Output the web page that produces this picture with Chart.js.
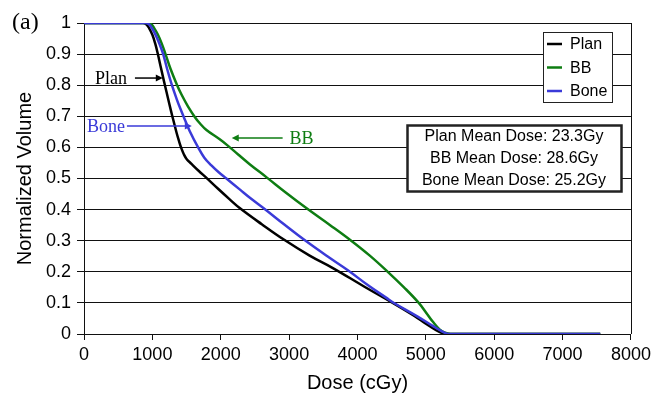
<!DOCTYPE html>
<html>
<head>
<meta charset="utf-8">
<script src="https://cdn.jsdelivr.net/npm/chart.js@4"></script>
<style>
  html, body { margin: 0; padding: 0; background: #fff; }
  #wrap { width: 655px; height: 401px; position: relative; }
</style>
</head>
<body>
<div id="wrap"><canvas id="dvh"></canvas></div>
<script>
/* DVH curves: Plan / BB / Bone */
const planDose = [0, 860, 910, 954, 1000, 1040, 1075, 1119, 1160, 1207, 1250, 1290, 1353, 1390, 1426, 1460, 1500, 1572, 1680, 1791, 1961, 2131, 2277, 2600, 2934, 3300, 3640, 4102, 4515, 4832, 5000, 5150, 5250, 5320, 7550];
const planVol  = [1, 1, 0.996, 0.983, 0.962, 0.935, 0.905, 0.862, 0.822, 0.778, 0.738, 0.702, 0.648, 0.62, 0.596, 0.578, 0.563, 0.547, 0.524, 0.502, 0.467, 0.433, 0.405, 0.353, 0.302, 0.252, 0.212, 0.152, 0.1, 0.058, 0.033, 0.012, 0.002, 0, 0];

const bbDose = [0, 940, 985, 1022, 1080, 1140, 1192, 1265, 1362, 1426, 1520, 1620, 1700, 1791, 1985, 2107, 2250, 2423, 2680, 2950, 3251, 3600, 3908, 4180, 4443, 4680, 4896, 5026, 5100, 5200, 5280, 5360, 7550];
const bbVol  = [1, 1, 0.996, 0.985, 0.963, 0.932, 0.9, 0.853, 0.8, 0.77, 0.732, 0.698, 0.676, 0.656, 0.626, 0.605, 0.578, 0.546, 0.502, 0.455, 0.405, 0.35, 0.3, 0.252, 0.2, 0.15, 0.1, 0.062, 0.04, 0.015, 0.004, 0, 0];

const boneDose = [0, 900, 950, 988, 1040, 1100, 1158, 1216, 1280, 1353, 1410, 1474, 1547, 1669, 1760, 1863, 1970, 2083, 2277, 2450, 2642, 2930, 3226, 3591, 3859, 4165, 4418, 4515, 4880, 5100, 5250, 5340, 7550];
const boneVol  = [1, 1, 0.996, 0.985, 0.965, 0.935, 0.9, 0.852, 0.804, 0.757, 0.724, 0.69, 0.652, 0.6, 0.567, 0.542, 0.52, 0.5, 0.465, 0.434, 0.402, 0.352, 0.302, 0.245, 0.205, 0.155, 0.117, 0.102, 0.056, 0.026, 0.007, 0, 0];

const meanDose = ['Plan Mean Dose: 23.3Gy', 'BB Mean Dose: 28.6Gy', 'Bone Mean Dose: 25.2Gy'];

const colors = { Plan: '#000000', BB: '#0e7d12', Bone: '#3a3ad8' };
const SANS = '"Liberation Sans", Arial, sans-serif';
const SERIF = '"Liberation Serif", "Times New Roman", serif';

function pts(xs, ys) { return xs.map((x, i) => ({ x, y: ys[i] })); }

// annotation arrows, in data units
const notes = [
  { text: 'Plan', color: '#000', textX: 628, align: 'right', y: 0.823, from: 745, to: 1153 },
  { text: 'Bone', color: '#3a3ad8', textX: 600, align: 'right', y: 0.669, from: 628, to: 1577 },
  { text: 'BB', color: '#0e7d12', textX: 3007, align: 'left', y: 0.630, from: 2905, to: 2161 },
];

const extras = {
  id: 'extras',
  afterDraw(chart) {
    const { ctx, chartArea: a, scales: { x, y } } = chart;
    ctx.save();
    // right frame
    ctx.strokeStyle = '#111'; ctx.lineWidth = 1;
    ctx.beginPath(); ctx.moveTo(Math.round(a.right) + 0.5, a.top); ctx.lineTo(Math.round(a.right) + 0.5, a.bottom); ctx.stroke();

    // (a)
    ctx.fillStyle = '#000'; ctx.font = '24px ' + SERIF;
    ctx.textAlign = 'left'; ctx.textBaseline = 'middle';
    ctx.fillText('(a)', 12, 23);

    // arrows + labels
    ctx.font = '18px ' + SERIF;
    notes.forEach((n) => {
      const py = y.getPixelForValue(n.y);
      const x0 = x.getPixelForValue(n.from), x1 = x.getPixelForValue(n.to);
      const dir = Math.sign(x1 - x0);
      ctx.strokeStyle = n.color; ctx.fillStyle = n.color; ctx.lineWidth = 1.5;
      ctx.beginPath(); ctx.moveTo(x0, py); ctx.lineTo(x1 - dir * 5, py); ctx.stroke();
      ctx.beginPath(); ctx.moveTo(x1, py); ctx.lineTo(x1 - dir * 7, py - 3.5); ctx.lineTo(x1 - dir * 7, py + 3.5); ctx.closePath(); ctx.fill();
      ctx.textAlign = n.align;
      ctx.fillText(n.text, x.getPixelForValue(n.textX), py + 1);
    });

    // legend box
    const lx = 543, ly = 32, lw = 69, lh = 70;
    ctx.fillStyle = '#fff'; ctx.fillRect(lx, ly, lw, lh);
    ctx.strokeStyle = '#222'; ctx.lineWidth = 1;
    ctx.strokeRect(lx + 0.5, ly + 0.5, lw, lh);
    ctx.font = '16px ' + SANS; ctx.textAlign = 'left';
    chart.data.datasets.forEach((ds, i) => {
      const yy = 44 + i * 23.5;
      ctx.strokeStyle = ds.borderColor; ctx.lineWidth = 2.5;
      ctx.beginPath(); ctx.moveTo(547, yy); ctx.lineTo(562, yy); ctx.stroke();
      ctx.fillStyle = '#000'; ctx.fillText(ds.label, 570, yy + 1);
    });

    // mean dose box
    const bx = 407, by = 125, bw = 214, bh = 66;
    ctx.fillStyle = '#fff'; ctx.fillRect(bx, by, bw, bh);
    ctx.strokeStyle = '#222'; ctx.strokeRect(bx + 0.5, by + 0.5, bw, bh);
    ctx.fillStyle = '#000'; ctx.textAlign = 'center';
    meanDose.forEach((t, i) => ctx.fillText(t, bx + bw / 2, 137 + i * 22));
    ctx.restore();
  },
};

const datasets = [
  { label: 'Plan', data: pts(planDose, planVol), borderColor: colors.Plan, order: 2 },
  { label: 'BB', data: pts(bbDose, bbVol), borderColor: colors.BB, order: 1 },
  { label: 'Bone', data: pts(boneDose, boneVol), borderColor: colors.Bone, order: 0 },
].map((d) => ({ ...d, borderWidth: 2.5, pointRadius: 0, fill: false, tension: 0.4 }));

new Chart(document.getElementById('dvh'), {
  type: 'line',
  data: { datasets },
  options: {
    responsive: true, maintainAspectRatio: false, animation: false,
    layout: { padding: { top: 23, right: 23, left: 0, bottom: 0 } },
    plugins: { legend: { display: false }, tooltip: { enabled: false } },
    scales: {
      x: {
        type: 'linear', min: 0, max: 8000,
        ticks: { stepSize: 1000, color: '#000', font: { family: SANS, size: 18 }, padding: 4, maxRotation: 0,
          callback: (v) => String(v) },
        grid: { drawOnChartArea: false, drawTicks: true, tickLength: 6, color: '#111' },
        border: { color: '#111', width: 1 },
        title: { display: true, text: 'Dose (cGy)', color: '#000', font: { family: SANS, size: 20 }, padding: { top: 0, bottom: 6 } },
        afterFit(s) { s.height = 67; },
      },
      y: {
        min: 0, max: 1,
        ticks: { stepSize: 0.1, color: '#000', font: { family: SANS, size: 18 }, padding: 6,
          callback: (v) => String(Math.round(v * 10) / 10) },
        grid: { color: '#111', lineWidth: 1, tickLength: 7 },
        border: { color: '#111', width: 1 },
        title: { display: true, text: 'Normalized Volume', color: '#000', font: { family: SANS, size: 20 }, padding: { top: 13, bottom: 0 } },
        afterFit(s) { s.width = 84; },
      },
    },
  },
  plugins: [extras],
});
</script>
</body>
</html>
